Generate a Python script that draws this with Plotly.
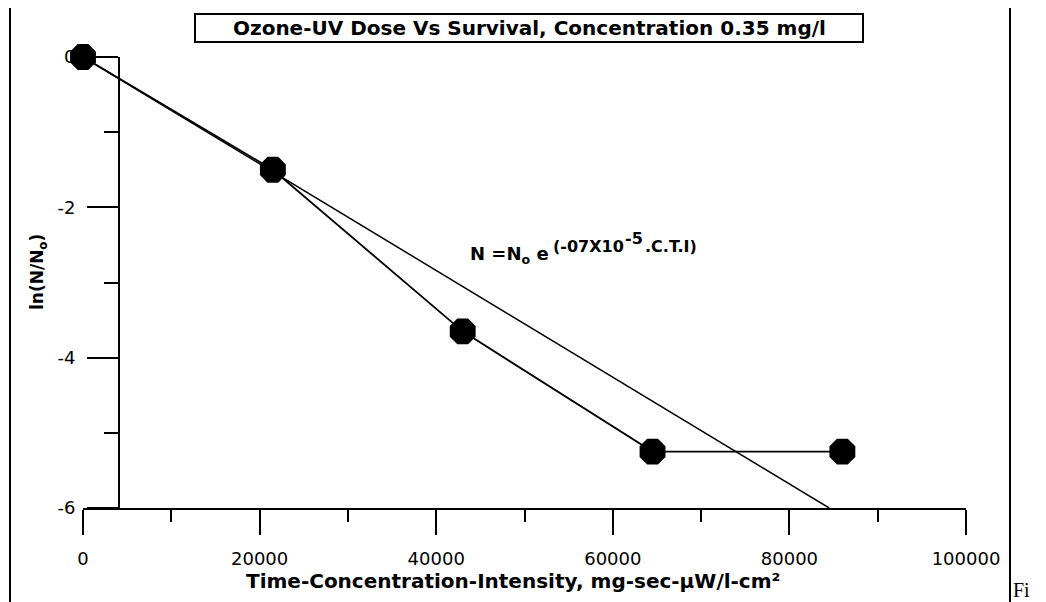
import plotly.graph_objects as go

ctI = [0, 21500, 43000, 64500, 86000]
ln_survival = [-0.0, -1.5, -3.65, -5.25, -5.25]

# first-order fit line N = No exp(-k.C.T.I), drawn between its read end points
fit_x = [0, 84500]
fit_y = [0, -6]

x_ticks = [0, 20000, 40000, 60000, 80000, 100000]
x_labels = ["0", "20000", "40000", "60000", "80000", "100000"]
y_ticks = [0, -2, -4, -6]
y_labels = ["0", "-2", "-4", "-6"]

# page body adds an 8px margin, so the figure is drawn offset by that much
OFF = 8
W, H = 1046 - OFF, 602 - OFF
L, R, T, B = 83, 966, 57, 508   # plot area in screen pixels


def px(x):
    return (x - L) / (R - L)


def py(y):
    return (B - y) / (B - T)


font = "DejaVu Sans, Arial, sans-serif"

fig = go.Figure()

fig.add_trace(go.Scatter(
    x=fit_x, y=fit_y, mode="lines",
    line=dict(color="black", width=1.5),
    cliponaxis=False, hoverinfo="skip",
))
fig.add_trace(go.Scatter(
    x=ctI, y=ln_survival, mode="lines+markers",
    line=dict(color="black", width=1.8),
    marker=dict(size=28, color="black", symbol="octagon"),
    cliponaxis=False,
))

fig.update_layout(
    width=W, height=H,
    margin=dict(l=L - OFF, r=W - (R - OFF), t=T - OFF, b=H - (B - OFF)),
    plot_bgcolor="white", paper_bgcolor="white",
    showlegend=False,
    font=dict(family=font, color="black"),
    xaxis=dict(
        range=[0, 100000], showgrid=False, zeroline=False,
        showline=True, linecolor="black", linewidth=2,
        ticks="outside", ticklen=25, tickwidth=2, tickcolor="black",
        tickvals=x_ticks, ticktext=x_labels, ticklabelstandoff=8,
        tickfont=dict(size=18, family=font),
        minor=dict(dtick=10000, ticks="outside", ticklen=12, tickwidth=2, tickcolor="black"),
    ),
    yaxis=dict(
        range=[-6, 0], showgrid=False, zeroline=False,
        anchor="free", position=px(119), layer="below traces",
        showline=True, linecolor="black", linewidth=2,
        ticks="outside", ticklen=31, tickwidth=2, tickcolor="black",
        tickvals=y_ticks, ticktext=y_labels, ticklabelstandoff=8,
        tickfont=dict(size=18, family=font),
        minor=dict(dtick=1, ticks="outside", ticklen=14, tickwidth=2, tickcolor="black"),
    ),
)


def note(text, x, y, size, xanchor="center", **kw):
    fig.add_annotation(xref="paper", yref="paper", x=px(x), y=py(y),
                       xanchor=xanchor, yanchor="middle", text=text,
                       showarrow=False, borderpad=0,
                       font=dict(size=size, family=kw.pop("family", font)), **kw)


# title box
fig.add_shape(type="rect", xref="paper", yref="paper",
              x0=px(195), x1=px(863), y0=py(42), y1=py(14),
              line=dict(color="black", width=2), fillcolor="white")
note("<b>Ozone-UV Dose Vs Survival, Concentration 0.35 mg/l</b>", 529, 28, 20)

# outer frame edges
for xe in (10, 1010):
    fig.add_shape(type="line", xref="paper", yref="paper",
                  x0=px(xe), x1=px(xe), y0=py(0), y1=py(602),
                  line=dict(color="black", width=2))

# axis titles
note("<b>Time-Concentration-Intensity, mg-sec-\u03bcW/l-cm\u00b2</b>", 513, 581, 20)
note("<b>ln(N/N<sub>o</sub>)</b>", 38, 272, 17, textangle=-90)

# fit equation, built from pieces so the raised parts keep their size
note("<b>N =N<sub>o</sub> e</b>", 469, 255, 18, xanchor="left")
note("<b>(-07X10</b>", 552, 246, 16, xanchor="left")
note("<b>-5</b>", 624, 238, 16, xanchor="left")
note("<b>.C.T.I)</b>", 644, 246, 16, xanchor="left")

# stray caption fragment at the page edge
note("Fi", 1012, 590, 20, xanchor="left",
     family="Liberation Serif, Times New Roman, serif")

fig.write_html("out.html")
